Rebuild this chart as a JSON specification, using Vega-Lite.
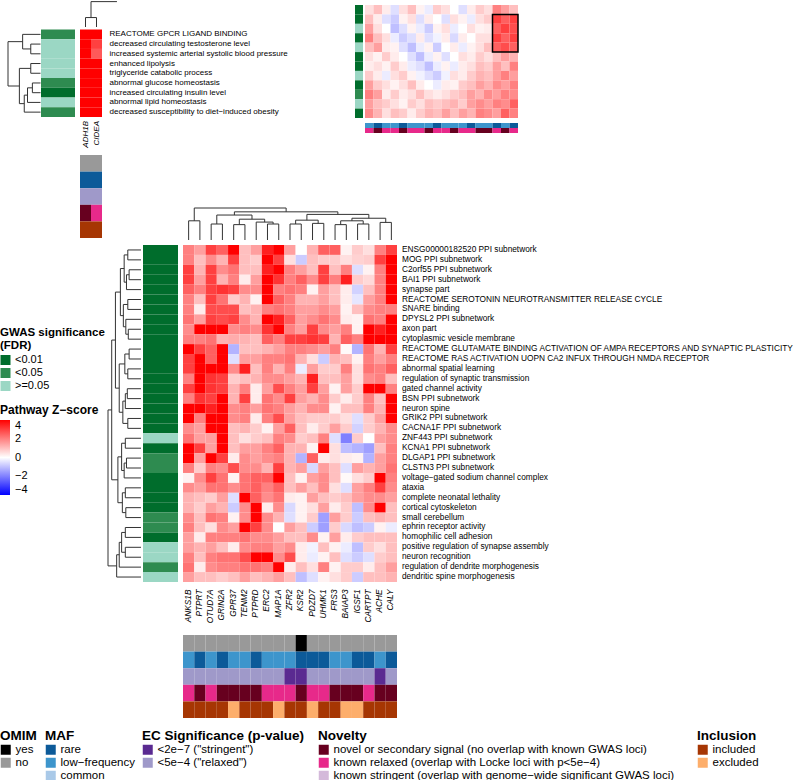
{
"$schema": "https://vega.github.io/schema/vega-lite/v6.json",
"width": 800,
"height": 780,
"autosize": {"type": "none"},
"padding": 0,
"config": {
 "view": {"stroke": null},
 "font": "Liberation Sans",
 "axis": {"labelFont": "Liberation Sans", "labelColor": "#000"},
 "legend": {"titleFont": "Liberation Sans", "labelFont": "Liberation Sans", "titleFontSize": 13.5, "labelFontSize": 11.5, "titleColor": "#000", "labelColor": "#000", "symbolType": "square", "symbolSize": 100, "symbolStrokeWidth": 0, "symbolOpacity": 1, "labelLimit": 500, "titleLimit": 500, "rowPadding": 0, "labelOffset": 4, "titlePadding": 1.5, "titleLineHeight": 13}
},
"datasets": {
 "genes": [{"c":0,"g":"ANKS1B"},{"c":1,"g":"PTPRT"},{"c":2,"g":"OTUD7A"},{"c":3,"g":"GRIN2A"},{"c":4,"g":"GPR37"},{"c":5,"g":"TENM2"},{"c":6,"g":"PTPRD"},{"c":7,"g":"ERC2"},{"c":8,"g":"MAP1A"},{"c":9,"g":"ZFR2"},{"c":10,"g":"KSR2"},{"c":11,"g":"PDZD7"},{"c":12,"g":"UHMK1"},{"c":13,"g":"FRS3"},{"c":14,"g":"BAIAP3"},{"c":15,"g":"IGSF1"},{"c":16,"g":"CARTPT"},{"c":17,"g":"ACHE"},{"c":18,"g":"CALY"}],
 "pw": [{"r":0,"p":"ENSG00000182520 PPI subnetwork"},{"r":1,"p":"MOG PPI subnetwork"},{"r":2,"p":"C2orf55 PPI subnetwork"},{"r":3,"p":"BAI1 PPI subnetwork"},{"r":4,"p":"synapse part"},{"r":5,"p":"REACTOME SEROTONIN NEUROTRANSMITTER RELEASE CYCLE"},{"r":6,"p":"SNARE binding"},{"r":7,"p":"DPYSL2 PPI subnetwork"},{"r":8,"p":"axon part"},{"r":9,"p":"cytoplasmic vesicle membrane"},{"r":10,"p":"REACTOME GLUTAMATE BINDING ACTIVATION OF AMPA RECEPTORS AND SYNAPTIC PLASTICITY"},{"r":11,"p":"REACTOME RAS ACTIVATION UOPN CA2 INFUX THROUGH NMDA RECEPTOR"},{"r":12,"p":"abnormal spatial learning"},{"r":13,"p":"regulation of synaptic transmission"},{"r":14,"p":"gated channel activity"},{"r":15,"p":"BSN PPI subnetwork"},{"r":16,"p":"neuron spine"},{"r":17,"p":"GRIK2 PPI subnetwork"},{"r":18,"p":"CACNA1F PPI subnetwork"},{"r":19,"p":"ZNF443 PPI subnetwork"},{"r":20,"p":"KCNA1 PPI subnetwork"},{"r":21,"p":"DLGAP1 PPI subnetwork"},{"r":22,"p":"CLSTN3 PPI subnetwork"},{"r":23,"p":"voltage−gated sodium channel complex"},{"r":24,"p":"ataxia"},{"r":25,"p":"complete neonatal lethality"},{"r":26,"p":"cortical cytoskeleton"},{"r":27,"p":"small cerebellum"},{"r":28,"p":"ephrin receptor activity"},{"r":29,"p":"homophilic cell adhesion"},{"r":30,"p":"positive regulation of synapse assembly"},{"r":31,"p":"neuron recognition"},{"r":32,"p":"regulation of dendrite morphogenesis"},{"r":33,"p":"dendritic spine morphogenesis"}],
 "gw": [{"r":0,"s":"<0.01"},{"r":1,"s":"<0.01"},{"r":2,"s":"<0.01"},{"r":3,"s":"<0.01"},{"r":4,"s":"<0.01"},{"r":5,"s":"<0.01"},{"r":6,"s":"<0.01"},{"r":7,"s":"<0.01"},{"r":8,"s":"<0.01"},{"r":9,"s":"<0.01"},{"r":10,"s":"<0.01"},{"r":11,"s":"<0.01"},{"r":12,"s":"<0.01"},{"r":13,"s":"<0.01"},{"r":14,"s":"<0.01"},{"r":15,"s":"<0.01"},{"r":16,"s":"<0.01"},{"r":17,"s":"<0.01"},{"r":18,"s":"<0.01"},{"r":19,"s":">=0.05"},{"r":20,"s":"<0.01"},{"r":21,"s":"<0.05"},{"r":22,"s":"<0.05"},{"r":23,"s":"<0.01"},{"r":24,"s":"<0.01"},{"r":25,"s":"<0.01"},{"r":26,"s":"<0.01"},{"r":27,"s":"<0.05"},{"r":28,"s":"<0.05"},{"r":29,"s":"<0.01"},{"r":30,"s":">=0.05"},{"r":31,"s":">=0.05"},{"r":32,"s":"<0.05"},{"r":33,"s":">=0.05"}],
 "heat": [
{"r":0,"c":0,"z":2},{"r":0,"c":1,"z":1.5},{"r":0,"c":2,"z":3},{"r":0,"c":3,"z":2.5},{"r":0,"c":4,"z":4},{"r":0,"c":5,"z":1},{"r":0,"c":6,"z":1.5},{"r":0,"c":7,"z":3.5},{"r":0,"c":8,"z":4},{"r":0,"c":9,"z":1.5},{"r":0,"c":10,"z":0},{"r":0,"c":11,"z":1.2},{"r":0,"c":12,"z":2.5},{"r":0,"c":13,"z":2.5},{"r":0,"c":14,"z":0.2},{"r":0,"c":15,"z":0.8},{"r":0,"c":16,"z":0.5},{"r":0,"c":17,"z":2},{"r":0,"c":18,"z":3},
{"r":1,"c":0,"z":2},{"r":1,"c":1,"z":1},{"r":1,"c":2,"z":1.8},{"r":1,"c":3,"z":1.2},{"r":1,"c":4,"z":3},{"r":1,"c":5,"z":1},{"r":1,"c":6,"z":0.8},{"r":1,"c":7,"z":4},{"r":1,"c":8,"z":3},{"r":1,"c":9,"z":0.5},{"r":1,"c":10,"z":-0.8},{"r":1,"c":11,"z":1},{"r":1,"c":12,"z":0.8},{"r":1,"c":13,"z":0.8},{"r":1,"c":14,"z":0.5},{"r":1,"c":15,"z":0.7},{"r":1,"c":16,"z":0.8},{"r":1,"c":17,"z":3},{"r":1,"c":18,"z":4},
{"r":2,"c":0,"z":3},{"r":2,"c":1,"z":1.2},{"r":2,"c":2,"z":3},{"r":2,"c":3,"z":1.8},{"r":2,"c":4,"z":2.2},{"r":2,"c":5,"z":1},{"r":2,"c":6,"z":1},{"r":2,"c":7,"z":3.5},{"r":2,"c":8,"z":4},{"r":2,"c":9,"z":2},{"r":2,"c":10,"z":1.5},{"r":2,"c":11,"z":1},{"r":2,"c":12,"z":3},{"r":2,"c":13,"z":1},{"r":2,"c":14,"z":2},{"r":2,"c":15,"z":-0.5},{"r":2,"c":16,"z":0.2},{"r":2,"c":17,"z":2},{"r":2,"c":18,"z":4},
{"r":3,"c":0,"z":3},{"r":3,"c":1,"z":1.5},{"r":3,"c":2,"z":3},{"r":3,"c":3,"z":1.2},{"r":3,"c":4,"z":2},{"r":3,"c":5,"z":0.3},{"r":3,"c":6,"z":1.5},{"r":3,"c":7,"z":4},{"r":3,"c":8,"z":3.2},{"r":3,"c":9,"z":2},{"r":3,"c":10,"z":2.5},{"r":3,"c":11,"z":1.8},{"r":3,"c":12,"z":3},{"r":3,"c":13,"z":2},{"r":3,"c":14,"z":3.5},{"r":3,"c":15,"z":0.8},{"r":3,"c":16,"z":0.6},{"r":3,"c":17,"z":2},{"r":3,"c":18,"z":4},
{"r":4,"c":0,"z":2.5},{"r":4,"c":1,"z":2},{"r":4,"c":2,"z":3},{"r":4,"c":3,"z":3.2},{"r":4,"c":4,"z":3},{"r":4,"c":5,"z":1.8},{"r":4,"c":6,"z":1.8},{"r":4,"c":7,"z":4},{"r":4,"c":8,"z":2},{"r":4,"c":9,"z":2.2},{"r":4,"c":10,"z":2},{"r":4,"c":11,"z":0.2},{"r":4,"c":12,"z":1.5},{"r":4,"c":13,"z":1},{"r":4,"c":14,"z":0.3},{"r":4,"c":15,"z":-0.7},{"r":4,"c":16,"z":1},{"r":4,"c":17,"z":2},{"r":4,"c":18,"z":4},
{"r":5,"c":0,"z":2},{"r":5,"c":1,"z":1},{"r":5,"c":2,"z":3},{"r":5,"c":3,"z":2.2},{"r":5,"c":4,"z":0.8},{"r":5,"c":5,"z":1.2},{"r":5,"c":6,"z":0.2},{"r":5,"c":7,"z":4},{"r":5,"c":8,"z":2.5},{"r":5,"c":9,"z":2},{"r":5,"c":10,"z":1.2},{"r":5,"c":11,"z":1.2},{"r":5,"c":12,"z":1.5},{"r":5,"c":13,"z":1},{"r":5,"c":14,"z":0.3},{"r":5,"c":15,"z":-0.4},{"r":5,"c":16,"z":1.5},{"r":5,"c":17,"z":2},{"r":5,"c":18,"z":4},
{"r":6,"c":0,"z":2},{"r":6,"c":1,"z":0.3},{"r":6,"c":2,"z":2.8},{"r":6,"c":3,"z":2.8},{"r":6,"c":4,"z":2.8},{"r":6,"c":5,"z":1},{"r":6,"c":6,"z":1.2},{"r":6,"c":7,"z":2},{"r":6,"c":8,"z":2.2},{"r":6,"c":9,"z":2},{"r":6,"c":10,"z":1.5},{"r":6,"c":11,"z":1.5},{"r":6,"c":12,"z":1.8},{"r":6,"c":13,"z":1.5},{"r":6,"c":14,"z":0.2},{"r":6,"c":15,"z":1},{"r":6,"c":16,"z":1.8},{"r":6,"c":17,"z":2},{"r":6,"c":18,"z":2},
{"r":7,"c":0,"z":2.2},{"r":7,"c":1,"z":1.5},{"r":7,"c":2,"z":3},{"r":7,"c":3,"z":2.8},{"r":7,"c":4,"z":3},{"r":7,"c":5,"z":1.8},{"r":7,"c":6,"z":1.2},{"r":7,"c":7,"z":4},{"r":7,"c":8,"z":3.5},{"r":7,"c":9,"z":2.5},{"r":7,"c":10,"z":1.5},{"r":7,"c":11,"z":1.8},{"r":7,"c":12,"z":2.2},{"r":7,"c":13,"z":1.8},{"r":7,"c":14,"z":0.3},{"r":7,"c":15,"z":0.2},{"r":7,"c":16,"z":2.2},{"r":7,"c":17,"z":2},{"r":7,"c":18,"z":4},
{"r":8,"c":0,"z":1.8},{"r":8,"c":1,"z":4},{"r":8,"c":2,"z":4},{"r":8,"c":3,"z":4},{"r":8,"c":4,"z":1.8},{"r":8,"c":5,"z":2},{"r":8,"c":6,"z":1.8},{"r":8,"c":7,"z":3.2},{"r":8,"c":8,"z":4},{"r":8,"c":9,"z":2},{"r":8,"c":10,"z":1.5},{"r":8,"c":11,"z":3},{"r":8,"c":12,"z":1.8},{"r":8,"c":13,"z":1.5},{"r":8,"c":14,"z":2},{"r":8,"c":15,"z":0.2},{"r":8,"c":16,"z":4},{"r":8,"c":17,"z":3.5},{"r":8,"c":18,"z":4},
{"r":9,"c":0,"z":2},{"r":9,"c":1,"z":2},{"r":9,"c":2,"z":2.2},{"r":9,"c":3,"z":1.2},{"r":9,"c":4,"z":1.3},{"r":9,"c":5,"z":1.2},{"r":9,"c":6,"z":1},{"r":9,"c":7,"z":2.5},{"r":9,"c":8,"z":2},{"r":9,"c":9,"z":3},{"r":9,"c":10,"z":3},{"r":9,"c":11,"z":3.2},{"r":9,"c":12,"z":3},{"r":9,"c":13,"z":1.2},{"r":9,"c":14,"z":2.5},{"r":9,"c":15,"z":2},{"r":9,"c":16,"z":4},{"r":9,"c":17,"z":4},{"r":9,"c":18,"z":4},
{"r":10,"c":0,"z":4},{"r":10,"c":1,"z":3},{"r":10,"c":2,"z":2.5},{"r":10,"c":3,"z":4},{"r":10,"c":4,"z":-1.2},{"r":10,"c":5,"z":1},{"r":10,"c":6,"z":1},{"r":10,"c":7,"z":1.2},{"r":10,"c":8,"z":1.5},{"r":10,"c":9,"z":2},{"r":10,"c":10,"z":2},{"r":10,"c":11,"z":1.8},{"r":10,"c":12,"z":1.5},{"r":10,"c":13,"z":2},{"r":10,"c":14,"z":0.1},{"r":10,"c":15,"z":-1.2},{"r":10,"c":16,"z":2.2},{"r":10,"c":17,"z":1.2},{"r":10,"c":18,"z":3},
{"r":11,"c":0,"z":3},{"r":11,"c":1,"z":4},{"r":11,"c":2,"z":2.5},{"r":11,"c":3,"z":4},{"r":11,"c":4,"z":-0.5},{"r":11,"c":5,"z":1.5},{"r":11,"c":6,"z":1.5},{"r":11,"c":7,"z":2},{"r":11,"c":8,"z":2},{"r":11,"c":9,"z":2.2},{"r":11,"c":10,"z":1.2},{"r":11,"c":11,"z":0.5},{"r":11,"c":12,"z":-0.8},{"r":11,"c":13,"z":1.2},{"r":11,"c":14,"z":1},{"r":11,"c":15,"z":0.2},{"r":11,"c":16,"z":2},{"r":11,"c":17,"z":1.5},{"r":11,"c":18,"z":2},
{"r":12,"c":0,"z":3},{"r":12,"c":1,"z":4},{"r":12,"c":2,"z":4},{"r":12,"c":3,"z":4},{"r":12,"c":4,"z":1.8},{"r":12,"c":5,"z":3.5},{"r":12,"c":6,"z":1},{"r":12,"c":7,"z":2},{"r":12,"c":8,"z":1.2},{"r":12,"c":9,"z":2},{"r":12,"c":10,"z":-0.3},{"r":12,"c":11,"z":1.5},{"r":12,"c":12,"z":0.8},{"r":12,"c":13,"z":0.8},{"r":12,"c":14,"z":2},{"r":12,"c":15,"z":0.5},{"r":12,"c":16,"z":2.2},{"r":12,"c":17,"z":2},{"r":12,"c":18,"z":2.5},
{"r":13,"c":0,"z":2},{"r":13,"c":1,"z":4},{"r":13,"c":2,"z":3.2},{"r":13,"c":3,"z":3},{"r":13,"c":4,"z":0.8},{"r":13,"c":5,"z":1},{"r":13,"c":6,"z":1.2},{"r":13,"c":7,"z":1.8},{"r":13,"c":8,"z":1.8},{"r":13,"c":9,"z":1.5},{"r":13,"c":10,"z":1.2},{"r":13,"c":11,"z":3.5},{"r":13,"c":12,"z":1},{"r":13,"c":13,"z":1},{"r":13,"c":14,"z":1.5},{"r":13,"c":15,"z":0.5},{"r":13,"c":16,"z":1.8},{"r":13,"c":17,"z":2},{"r":13,"c":18,"z":1},
{"r":14,"c":0,"z":3},{"r":14,"c":1,"z":4},{"r":14,"c":2,"z":3.2},{"r":14,"c":3,"z":3},{"r":14,"c":4,"z":1.2},{"r":14,"c":5,"z":2},{"r":14,"c":6,"z":0.3},{"r":14,"c":7,"z":1.5},{"r":14,"c":8,"z":2.8},{"r":14,"c":9,"z":2},{"r":14,"c":10,"z":1.5},{"r":14,"c":11,"z":3},{"r":14,"c":12,"z":1.5},{"r":14,"c":13,"z":0.2},{"r":14,"c":14,"z":1.5},{"r":14,"c":15,"z":0.8},{"r":14,"c":16,"z":4},{"r":14,"c":17,"z":4},{"r":14,"c":18,"z":2},
{"r":15,"c":0,"z":2},{"r":15,"c":1,"z":3.2},{"r":15,"c":2,"z":3},{"r":15,"c":3,"z":4},{"r":15,"c":4,"z":1.2},{"r":15,"c":5,"z":3},{"r":15,"c":6,"z":0.3},{"r":15,"c":7,"z":2.2},{"r":15,"c":8,"z":1.8},{"r":15,"c":9,"z":3},{"r":15,"c":10,"z":1.5},{"r":15,"c":11,"z":1.2},{"r":15,"c":12,"z":1.8},{"r":15,"c":13,"z":0.8},{"r":15,"c":14,"z":0.3},{"r":15,"c":15,"z":0.8},{"r":15,"c":16,"z":2},{"r":15,"c":17,"z":1},{"r":15,"c":18,"z":4},
{"r":16,"c":0,"z":4},{"r":16,"c":1,"z":4},{"r":16,"c":2,"z":3.5},{"r":16,"c":3,"z":4},{"r":16,"c":4,"z":1.8},{"r":16,"c":5,"z":2},{"r":16,"c":6,"z":1.5},{"r":16,"c":7,"z":2.2},{"r":16,"c":8,"z":2},{"r":16,"c":9,"z":1.5},{"r":16,"c":10,"z":1.2},{"r":16,"c":11,"z":1.8},{"r":16,"c":12,"z":1.8},{"r":16,"c":13,"z":0.2},{"r":16,"c":14,"z":1},{"r":16,"c":15,"z":1},{"r":16,"c":16,"z":2},{"r":16,"c":17,"z":1.2},{"r":16,"c":18,"z":4},
{"r":17,"c":0,"z":4},{"r":17,"c":1,"z":2},{"r":17,"c":2,"z":4},{"r":17,"c":3,"z":4},{"r":17,"c":4,"z":1.8},{"r":17,"c":5,"z":2},{"r":17,"c":6,"z":0.3},{"r":17,"c":7,"z":2},{"r":17,"c":8,"z":2.8},{"r":17,"c":9,"z":1.5},{"r":17,"c":10,"z":1},{"r":17,"c":11,"z":0.8},{"r":17,"c":12,"z":0.8},{"r":17,"c":13,"z":0.8},{"r":17,"c":14,"z":0.5},{"r":17,"c":15,"z":-0.5},{"r":17,"c":16,"z":0.8},{"r":17,"c":17,"z":1.5},{"r":17,"c":18,"z":4},
{"r":18,"c":0,"z":1.8},{"r":18,"c":1,"z":1.5},{"r":18,"c":2,"z":4},{"r":18,"c":3,"z":4},{"r":18,"c":4,"z":1},{"r":18,"c":5,"z":1.2},{"r":18,"c":6,"z":0.8},{"r":18,"c":7,"z":0.2},{"r":18,"c":8,"z":1.5},{"r":18,"c":9,"z":2.5},{"r":18,"c":10,"z":1},{"r":18,"c":11,"z":0.3},{"r":18,"c":12,"z":0.8},{"r":18,"c":13,"z":1.5},{"r":18,"c":14,"z":0.8},{"r":18,"c":15,"z":-0.7},{"r":18,"c":16,"z":0.8},{"r":18,"c":17,"z":1.2},{"r":18,"c":18,"z":1.8},
{"r":19,"c":0,"z":2.2},{"r":19,"c":1,"z":1.5},{"r":19,"c":2,"z":1.5},{"r":19,"c":3,"z":4},{"r":19,"c":4,"z":1},{"r":19,"c":5,"z":0.5},{"r":19,"c":6,"z":0.8},{"r":19,"c":7,"z":1},{"r":19,"c":8,"z":2},{"r":19,"c":9,"z":1.8},{"r":19,"c":10,"z":0.8},{"r":19,"c":11,"z":1},{"r":19,"c":12,"z":2},{"r":19,"c":13,"z":-0.5},{"r":19,"c":14,"z":-2},{"r":19,"c":15,"z":0.8},{"r":19,"c":16,"z":0},{"r":19,"c":17,"z":1.5},{"r":19,"c":18,"z":1.8},
{"r":20,"c":0,"z":4},{"r":20,"c":1,"z":3},{"r":20,"c":2,"z":1.5},{"r":20,"c":3,"z":4},{"r":20,"c":4,"z":1},{"r":20,"c":5,"z":1.5},{"r":20,"c":6,"z":1.5},{"r":20,"c":7,"z":2},{"r":20,"c":8,"z":2.5},{"r":20,"c":9,"z":1.2},{"r":20,"c":10,"z":1.2},{"r":20,"c":11,"z":0.2},{"r":20,"c":12,"z":4},{"r":20,"c":13,"z":0.5},{"r":20,"c":14,"z":-1},{"r":20,"c":15,"z":-1.2},{"r":20,"c":16,"z":-1.5},{"r":20,"c":17,"z":1},{"r":20,"c":18,"z":2},
{"r":21,"c":0,"z":4},{"r":21,"c":1,"z":1.5},{"r":21,"c":2,"z":4},{"r":21,"c":3,"z":3},{"r":21,"c":4,"z":0.3},{"r":21,"c":5,"z":1.8},{"r":21,"c":6,"z":1.5},{"r":21,"c":7,"z":1.8},{"r":21,"c":8,"z":2},{"r":21,"c":9,"z":1.2},{"r":21,"c":10,"z":-1.2},{"r":21,"c":11,"z":2.5},{"r":21,"c":12,"z":0.3},{"r":21,"c":13,"z":0.5},{"r":21,"c":14,"z":0.3},{"r":21,"c":15,"z":0.2},{"r":21,"c":16,"z":-1.2},{"r":21,"c":17,"z":1.5},{"r":21,"c":18,"z":2},
{"r":22,"c":0,"z":2},{"r":22,"c":1,"z":0.8},{"r":22,"c":2,"z":2},{"r":22,"c":3,"z":1.8},{"r":22,"c":4,"z":2.8},{"r":22,"c":5,"z":1.8},{"r":22,"c":6,"z":1.8},{"r":22,"c":7,"z":1.2},{"r":22,"c":8,"z":3},{"r":22,"c":9,"z":1.2},{"r":22,"c":10,"z":1.5},{"r":22,"c":11,"z":-0.6},{"r":22,"c":12,"z":1.5},{"r":22,"c":13,"z":1},{"r":22,"c":14,"z":-0.5},{"r":22,"c":15,"z":1.5},{"r":22,"c":16,"z":1.2},{"r":22,"c":17,"z":1.5},{"r":22,"c":18,"z":2.2},
{"r":23,"c":0,"z":0.2},{"r":23,"c":1,"z":1.8},{"r":23,"c":2,"z":3},{"r":23,"c":3,"z":2.2},{"r":23,"c":4,"z":0.2},{"r":23,"c":5,"z":2.2},{"r":23,"c":6,"z":2.5},{"r":23,"c":7,"z":2.5},{"r":23,"c":8,"z":4},{"r":23,"c":9,"z":1},{"r":23,"c":10,"z":0.2},{"r":23,"c":11,"z":1.5},{"r":23,"c":12,"z":1.8},{"r":23,"c":13,"z":1},{"r":23,"c":14,"z":0.1},{"r":23,"c":15,"z":0.5},{"r":23,"c":16,"z":0.8},{"r":23,"c":17,"z":4},{"r":23,"c":18,"z":2},
{"r":24,"c":0,"z":1.8},{"r":24,"c":1,"z":1.5},{"r":24,"c":2,"z":2.2},{"r":24,"c":3,"z":2.2},{"r":24,"c":4,"z":1.8},{"r":24,"c":5,"z":2.2},{"r":24,"c":6,"z":2.5},{"r":24,"c":7,"z":2},{"r":24,"c":8,"z":2.5},{"r":24,"c":9,"z":1},{"r":24,"c":10,"z":1.5},{"r":24,"c":11,"z":1},{"r":24,"c":12,"z":1.8},{"r":24,"c":13,"z":0.5},{"r":24,"c":14,"z":-0.5},{"r":24,"c":15,"z":1.5},{"r":24,"c":16,"z":2},{"r":24,"c":17,"z":3},{"r":24,"c":18,"z":1.8},
{"r":25,"c":0,"z":1.2},{"r":25,"c":1,"z":1},{"r":25,"c":2,"z":0.8},{"r":25,"c":3,"z":1.5},{"r":25,"c":4,"z":-0.5},{"r":25,"c":5,"z":4},{"r":25,"c":6,"z":2.5},{"r":25,"c":7,"z":1.8},{"r":25,"c":8,"z":2.2},{"r":25,"c":9,"z":0.3},{"r":25,"c":10,"z":0.2},{"r":25,"c":11,"z":1.5},{"r":25,"c":12,"z":1},{"r":25,"c":13,"z":0.8},{"r":25,"c":14,"z":1},{"r":25,"c":15,"z":1.5},{"r":25,"c":16,"z":1.8},{"r":25,"c":17,"z":1.8},{"r":25,"c":18,"z":1.5},
{"r":26,"c":0,"z":1.2},{"r":26,"c":1,"z":0.8},{"r":26,"c":2,"z":1.5},{"r":26,"c":3,"z":1.2},{"r":26,"c":4,"z":-0.8},{"r":26,"c":5,"z":1.8},{"r":26,"c":6,"z":4},{"r":26,"c":7,"z":0.3},{"r":26,"c":8,"z":1.8},{"r":26,"c":9,"z":-0.6},{"r":26,"c":10,"z":0.2},{"r":26,"c":11,"z":0.5},{"r":26,"c":12,"z":1.5},{"r":26,"c":13,"z":0.3},{"r":26,"c":14,"z":0.8},{"r":26,"c":15,"z":-1},{"r":26,"c":16,"z":1.8},{"r":26,"c":17,"z":4},{"r":26,"c":18,"z":1},
{"r":27,"c":0,"z":1.8},{"r":27,"c":1,"z":1},{"r":27,"c":2,"z":2.2},{"r":27,"c":3,"z":2},{"r":27,"c":4,"z":0.2},{"r":27,"c":5,"z":1.8},{"r":27,"c":6,"z":4},{"r":27,"c":7,"z":1.8},{"r":27,"c":8,"z":1.2},{"r":27,"c":9,"z":-0.5},{"r":27,"c":10,"z":0.2},{"r":27,"c":11,"z":0.8},{"r":27,"c":12,"z":-1.5},{"r":27,"c":13,"z":1.5},{"r":27,"c":14,"z":0.8},{"r":27,"c":15,"z":-0.8},{"r":27,"c":16,"z":1},{"r":27,"c":17,"z":1.2},{"r":27,"c":18,"z":1},
{"r":28,"c":0,"z":2},{"r":28,"c":1,"z":1},{"r":28,"c":2,"z":0.5},{"r":28,"c":3,"z":1.8},{"r":28,"c":4,"z":1.5},{"r":28,"c":5,"z":4},{"r":28,"c":6,"z":3},{"r":28,"c":7,"z":1.8},{"r":28,"c":8,"z":0},{"r":28,"c":9,"z":1.5},{"r":28,"c":10,"z":1},{"r":28,"c":11,"z":-0.8},{"r":28,"c":12,"z":-1.5},{"r":28,"c":13,"z":0.8},{"r":28,"c":14,"z":-0.6},{"r":28,"c":15,"z":-1},{"r":28,"c":16,"z":-0.8},{"r":28,"c":17,"z":0.2},{"r":28,"c":18,"z":-0.3},
{"r":29,"c":0,"z":1.5},{"r":29,"c":1,"z":0.3},{"r":29,"c":2,"z":2},{"r":29,"c":3,"z":2},{"r":29,"c":4,"z":2},{"r":29,"c":5,"z":2.2},{"r":29,"c":6,"z":1.8},{"r":29,"c":7,"z":1.8},{"r":29,"c":8,"z":1.5},{"r":29,"c":9,"z":1},{"r":29,"c":10,"z":1},{"r":29,"c":11,"z":1.8},{"r":29,"c":12,"z":0.2},{"r":29,"c":13,"z":1.5},{"r":29,"c":14,"z":0.3},{"r":29,"c":15,"z":0.8},{"r":29,"c":16,"z":1},{"r":29,"c":17,"z":1},{"r":29,"c":18,"z":1},
{"r":30,"c":0,"z":1.5},{"r":30,"c":1,"z":1.2},{"r":30,"c":2,"z":1.5},{"r":30,"c":3,"z":1},{"r":30,"c":4,"z":0.3},{"r":30,"c":5,"z":1.8},{"r":30,"c":6,"z":2},{"r":30,"c":7,"z":2},{"r":30,"c":8,"z":1.5},{"r":30,"c":9,"z":1.8},{"r":30,"c":10,"z":0.3},{"r":30,"c":11,"z":-0.2},{"r":30,"c":12,"z":1},{"r":30,"c":13,"z":0.2},{"r":30,"c":14,"z":-0.3},{"r":30,"c":15,"z":-1},{"r":30,"c":16,"z":0.8},{"r":30,"c":17,"z":0.5},{"r":30,"c":18,"z":1},
{"r":31,"c":0,"z":2},{"r":31,"c":1,"z":1},{"r":31,"c":2,"z":2},{"r":31,"c":3,"z":2.2},{"r":31,"c":4,"z":2.2},{"r":31,"c":5,"z":2.8},{"r":31,"c":6,"z":4},{"r":31,"c":7,"z":4},{"r":31,"c":8,"z":1.8},{"r":31,"c":9,"z":2.8},{"r":31,"c":10,"z":0.3},{"r":31,"c":11,"z":-0.3},{"r":31,"c":12,"z":0.2},{"r":31,"c":13,"z":1},{"r":31,"c":14,"z":-0.5},{"r":31,"c":15,"z":-0.8},{"r":31,"c":16,"z":-0.5},{"r":31,"c":17,"z":0.8},{"r":31,"c":18,"z":1},
{"r":32,"c":0,"z":2.2},{"r":32,"c":1,"z":0.3},{"r":32,"c":2,"z":1.8},{"r":32,"c":3,"z":2},{"r":32,"c":4,"z":2},{"r":32,"c":5,"z":2.2},{"r":32,"c":6,"z":2.2},{"r":32,"c":7,"z":2},{"r":32,"c":8,"z":4},{"r":32,"c":9,"z":0.3},{"r":32,"c":10,"z":1},{"r":32,"c":11,"z":0.5},{"r":32,"c":12,"z":2},{"r":32,"c":13,"z":0.2},{"r":32,"c":14,"z":0.8},{"r":32,"c":15,"z":0.8},{"r":32,"c":16,"z":0.3},{"r":32,"c":17,"z":1},{"r":32,"c":18,"z":1.5},
{"r":33,"c":0,"z":1.5},{"r":33,"c":1,"z":1},{"r":33,"c":2,"z":1},{"r":33,"c":3,"z":0.8},{"r":33,"c":4,"z":1},{"r":33,"c":5,"z":1.5},{"r":33,"c":6,"z":1},{"r":33,"c":7,"z":1.2},{"r":33,"c":8,"z":1.5},{"r":33,"c":9,"z":1},{"r":33,"c":10,"z":-1},{"r":33,"c":11,"z":-0.5},{"r":33,"c":12,"z":0.2},{"r":33,"c":13,"z":0.5},{"r":33,"c":14,"z":0.8},{"r":33,"c":15,"z":-0.8},{"r":33,"c":16,"z":1},{"r":33,"c":17,"z":1},{"r":33,"c":18,"z":1.2}
 ],
 "annot": [
{"c":0,"t":"OMIM","v":"no"},{"c":1,"t":"OMIM","v":"no"},{"c":2,"t":"OMIM","v":"no"},{"c":3,"t":"OMIM","v":"no"},{"c":4,"t":"OMIM","v":"no"},{"c":5,"t":"OMIM","v":"no"},{"c":6,"t":"OMIM","v":"no"},{"c":7,"t":"OMIM","v":"no"},{"c":8,"t":"OMIM","v":"no"},{"c":9,"t":"OMIM","v":"no"},{"c":10,"t":"OMIM","v":"yes"},{"c":11,"t":"OMIM","v":"no"},{"c":12,"t":"OMIM","v":"no"},{"c":13,"t":"OMIM","v":"no"},{"c":14,"t":"OMIM","v":"no"},{"c":15,"t":"OMIM","v":"no"},{"c":16,"t":"OMIM","v":"no"},{"c":17,"t":"OMIM","v":"no"},{"c":18,"t":"OMIM","v":"no"},
{"c":0,"t":"MAF","v":"low"},{"c":1,"t":"MAF","v":"rare"},{"c":2,"t":"MAF","v":"low"},{"c":3,"t":"MAF","v":"rare"},{"c":4,"t":"MAF","v":"low"},{"c":5,"t":"MAF","v":"low"},{"c":6,"t":"MAF","v":"rare"},{"c":7,"t":"MAF","v":"low"},{"c":8,"t":"MAF","v":"low"},{"c":9,"t":"MAF","v":"low"},{"c":10,"t":"MAF","v":"rare"},{"c":11,"t":"MAF","v":"rare"},{"c":12,"t":"MAF","v":"rare"},{"c":13,"t":"MAF","v":"low"},{"c":14,"t":"MAF","v":"low"},{"c":15,"t":"MAF","v":"rare"},{"c":16,"t":"MAF","v":"rare"},{"c":17,"t":"MAF","v":"low"},{"c":18,"t":"MAF","v":"rare"},
{"c":0,"t":"EC","v":"r"},{"c":1,"t":"EC","v":"r"},{"c":2,"t":"EC","v":"r"},{"c":3,"t":"EC","v":"r"},{"c":4,"t":"EC","v":"r"},{"c":5,"t":"EC","v":"r"},{"c":6,"t":"EC","v":"r"},{"c":7,"t":"EC","v":"r"},{"c":8,"t":"EC","v":"r"},{"c":9,"t":"EC","v":"s"},{"c":10,"t":"EC","v":"s"},{"c":11,"t":"EC","v":"r"},{"c":12,"t":"EC","v":"r"},{"c":13,"t":"EC","v":"r"},{"c":14,"t":"EC","v":"r"},{"c":15,"t":"EC","v":"r"},{"c":16,"t":"EC","v":"r"},{"c":17,"t":"EC","v":"s"},{"c":18,"t":"EC","v":"r"},
{"c":0,"t":"Nov","v":"relaxed"},{"c":1,"t":"Nov","v":"novel"},{"c":2,"t":"Nov","v":"relaxed"},{"c":3,"t":"Nov","v":"novel"},{"c":4,"t":"Nov","v":"novel"},{"c":5,"t":"Nov","v":"novel"},{"c":6,"t":"Nov","v":"novel"},{"c":7,"t":"Nov","v":"relaxed"},{"c":8,"t":"Nov","v":"relaxed"},{"c":9,"t":"Nov","v":"relaxed"},{"c":10,"t":"Nov","v":"novel"},{"c":11,"t":"Nov","v":"relaxed"},{"c":12,"t":"Nov","v":"relaxed"},{"c":13,"t":"Nov","v":"novel"},{"c":14,"t":"Nov","v":"novel"},{"c":15,"t":"Nov","v":"novel"},{"c":16,"t":"Nov","v":"relaxed"},{"c":17,"t":"Nov","v":"novel"},{"c":18,"t":"Nov","v":"novel"},
{"c":0,"t":"Inc","v":"included"},{"c":1,"t":"Inc","v":"included"},{"c":2,"t":"Inc","v":"included"},{"c":3,"t":"Inc","v":"included"},{"c":4,"t":"Inc","v":"excluded"},{"c":5,"t":"Inc","v":"included"},{"c":6,"t":"Inc","v":"included"},{"c":7,"t":"Inc","v":"included"},{"c":8,"t":"Inc","v":"excluded"},{"c":9,"t":"Inc","v":"included"},{"c":10,"t":"Inc","v":"included"},{"c":11,"t":"Inc","v":"excluded"},{"c":12,"t":"Inc","v":"included"},{"c":13,"t":"Inc","v":"included"},{"c":14,"t":"Inc","v":"excluded"},{"c":15,"t":"Inc","v":"excluded"},{"c":16,"t":"Inc","v":"included"},{"c":17,"t":"Inc","v":"included"},{"c":18,"t":"Inc","v":"included"}
 ],
 "rtree": [
{"h1":0.4,"h2":0.4,"p1":0,"p2":1},{"h1":0,"h2":0.4,"p1":0,"p2":0},{"h1":0,"h2":0.4,"p1":1,"p2":1},
{"h1":0.36,"h2":0.36,"p1":2,"p2":3},{"h1":0,"h2":0.36,"p1":2,"p2":2},{"h1":0,"h2":0.36,"p1":3,"p2":3},
{"h1":0.44,"h2":0.44,"p1":2.5,"p2":4},{"h1":0.36,"h2":0.44,"p1":2.5,"p2":2.5},{"h1":0,"h2":0.44,"p1":4,"p2":4},
{"h1":0.51,"h2":0.51,"p1":0.5,"p2":3.25},{"h1":0.4,"h2":0.51,"p1":0.5,"p2":0.5},{"h1":0.44,"h2":0.51,"p1":3.25,"p2":3.25},
{"h1":0.4,"h2":0.4,"p1":5,"p2":6},{"h1":0,"h2":0.4,"p1":5,"p2":5},{"h1":0,"h2":0.4,"p1":6,"p2":6},
{"h1":0.385,"h2":0.385,"p1":8,"p2":9},{"h1":0,"h2":0.385,"p1":8,"p2":8},{"h1":0,"h2":0.385,"p1":9,"p2":9},
{"h1":0.46,"h2":0.46,"p1":7,"p2":8.5},{"h1":0,"h2":0.46,"p1":7,"p2":7},{"h1":0.385,"h2":0.46,"p1":8.5,"p2":8.5},
{"h1":0.535,"h2":0.535,"p1":5.5,"p2":7.75},{"h1":0.4,"h2":0.535,"p1":5.5,"p2":5.5},{"h1":0.46,"h2":0.535,"p1":7.75,"p2":7.75},
{"h1":0.625,"h2":0.625,"p1":1.875,"p2":6.625},{"h1":0.51,"h2":0.625,"p1":1.875,"p2":1.875},{"h1":0.535,"h2":0.625,"p1":6.625,"p2":6.625},
{"h1":0.36,"h2":0.36,"p1":10,"p2":11},{"h1":0,"h2":0.36,"p1":10,"p2":10},{"h1":0,"h2":0.36,"p1":11,"p2":11},
{"h1":0.4,"h2":0.4,"p1":12,"p2":13},{"h1":0,"h2":0.4,"p1":12,"p2":12},{"h1":0,"h2":0.4,"p1":13,"p2":13},
{"h1":0.49,"h2":0.49,"p1":10.5,"p2":12.5},{"h1":0.36,"h2":0.49,"p1":10.5,"p2":10.5},{"h1":0.4,"h2":0.49,"p1":12.5,"p2":12.5},
{"h1":0.415,"h2":0.415,"p1":14,"p2":15},{"h1":0,"h2":0.415,"p1":14,"p2":14},{"h1":0,"h2":0.415,"p1":15,"p2":15},
{"h1":0.475,"h2":0.475,"p1":14.5,"p2":16},{"h1":0.415,"h2":0.475,"p1":14.5,"p2":14.5},{"h1":0,"h2":0.475,"p1":16,"p2":16},
{"h1":0.4,"h2":0.4,"p1":17,"p2":18},{"h1":0,"h2":0.4,"p1":17,"p2":17},{"h1":0,"h2":0.4,"p1":18,"p2":18},
{"h1":0.55,"h2":0.55,"p1":15.25,"p2":17.5},{"h1":0.475,"h2":0.55,"p1":15.25,"p2":15.25},{"h1":0.4,"h2":0.55,"p1":17.5,"p2":17.5},
{"h1":0.66,"h2":0.66,"p1":11.5,"p2":16.375},{"h1":0.49,"h2":0.66,"p1":11.5,"p2":11.5},{"h1":0.55,"h2":0.66,"p1":16.375,"p2":16.375},
{"h1":0.775,"h2":0.775,"p1":4.25,"p2":13.94},{"h1":0.625,"h2":0.775,"p1":4.25,"p2":4.25},{"h1":0.66,"h2":0.775,"p1":13.94,"p2":13.94},
{"h1":0.475,"h2":0.475,"p1":19,"p2":20},{"h1":0,"h2":0.475,"p1":19,"p2":19},{"h1":0,"h2":0.475,"p1":20,"p2":20},
{"h1":0.44,"h2":0.44,"p1":21,"p2":22},{"h1":0,"h2":0.44,"p1":21,"p2":21},{"h1":0,"h2":0.44,"p1":22,"p2":22},
{"h1":0.51,"h2":0.51,"p1":21.5,"p2":23},{"h1":0.44,"h2":0.51,"p1":21.5,"p2":21.5},{"h1":0,"h2":0.51,"p1":23,"p2":23},
{"h1":0.5875,"h2":0.5875,"p1":19.5,"p2":22.25},{"h1":0.475,"h2":0.5875,"p1":19.5,"p2":19.5},{"h1":0.51,"h2":0.5875,"p1":22.25,"p2":22.25},
{"h1":0.475,"h2":0.475,"p1":24,"p2":25},{"h1":0,"h2":0.475,"p1":24,"p2":24},{"h1":0,"h2":0.475,"p1":25,"p2":25},
{"h1":0.46,"h2":0.46,"p1":26,"p2":27},{"h1":0,"h2":0.46,"p1":26,"p2":26},{"h1":0,"h2":0.46,"p1":27,"p2":27},
{"h1":0.565,"h2":0.565,"p1":24.5,"p2":26.5},{"h1":0.475,"h2":0.565,"p1":24.5,"p2":24.5},{"h1":0.46,"h2":0.565,"p1":26.5,"p2":26.5},
{"h1":0.7,"h2":0.7,"p1":20.875,"p2":25.5},{"h1":0.5875,"h2":0.7,"p1":20.875,"p2":20.875},{"h1":0.565,"h2":0.7,"p1":25.5,"p2":25.5},
{"h1":0.8875,"h2":0.8875,"p1":9.09,"p2":23.19},{"h1":0.775,"h2":0.8875,"p1":9.09,"p2":9.09},{"h1":0.7,"h2":0.8875,"p1":23.19,"p2":23.19},
{"h1":0.475,"h2":0.475,"p1":28,"p2":29},{"h1":0,"h2":0.475,"p1":28,"p2":28},{"h1":0,"h2":0.475,"p1":29,"p2":29},
{"h1":0.475,"h2":0.475,"p1":30,"p2":31},{"h1":0,"h2":0.475,"p1":30,"p2":30},{"h1":0,"h2":0.475,"p1":31,"p2":31},
{"h1":0.5875,"h2":0.5875,"p1":28.5,"p2":30.5},{"h1":0.475,"h2":0.5875,"p1":28.5,"p2":28.5},{"h1":0.475,"h2":0.5875,"p1":30.5,"p2":30.5},
{"h1":0.66,"h2":0.66,"p1":29.5,"p2":32},{"h1":0.5875,"h2":0.66,"p1":29.5,"p2":29.5},{"h1":0,"h2":0.66,"p1":32,"p2":32},
{"h1":0.7375,"h2":0.7375,"p1":30.75,"p2":33},{"h1":0.66,"h2":0.7375,"p1":30.75,"p2":30.75},{"h1":0,"h2":0.7375,"p1":33,"p2":33},
{"h1":1,"h2":1,"p1":16.14,"p2":31.875},{"h1":0.8875,"h2":1,"p1":16.14,"p2":16.14},{"h1":0.7375,"h2":1,"p1":31.875,"p2":31.875}
 ],
 "ctree": [
{"p1":0,"p2":1,"h1":0.6,"h2":0.6},{"p1":0,"p2":0,"h1":0,"h2":0.6},{"p1":1,"p2":1,"h1":0,"h2":0.6},
{"p1":2,"p2":3,"h1":0.5,"h2":0.5},{"p1":2,"p2":2,"h1":0,"h2":0.5},{"p1":3,"p2":3,"h1":0,"h2":0.5},
{"p1":4,"p2":5,"h1":0.48,"h2":0.48},{"p1":4,"p2":4,"h1":0,"h2":0.48},{"p1":5,"p2":5,"h1":0,"h2":0.48},
{"p1":7,"p2":8,"h1":0.5,"h2":0.5},{"p1":7,"p2":7,"h1":0,"h2":0.5},{"p1":8,"p2":8,"h1":0,"h2":0.5},
{"p1":6,"p2":7.5,"h1":0.56,"h2":0.56},{"p1":6,"p2":6,"h1":0,"h2":0.56},{"p1":7.5,"p2":7.5,"h1":0.5,"h2":0.56},
{"p1":4.5,"p2":6.75,"h1":0.65,"h2":0.65},{"p1":4.5,"p2":4.5,"h1":0.48,"h2":0.65},{"p1":6.75,"p2":6.75,"h1":0.56,"h2":0.65},
{"p1":2.5,"p2":5.625,"h1":0.78,"h2":0.78},{"p1":2.5,"p2":2.5,"h1":0.5,"h2":0.78},{"p1":5.625,"p2":5.625,"h1":0.65,"h2":0.78},
{"p1":9,"p2":10,"h1":0.5,"h2":0.5},{"p1":9,"p2":9,"h1":0,"h2":0.5},{"p1":10,"p2":10,"h1":0,"h2":0.5},
{"p1":11,"p2":12,"h1":0.52,"h2":0.52},{"p1":11,"p2":11,"h1":0,"h2":0.52},{"p1":12,"p2":12,"h1":0,"h2":0.52},
{"p1":9.5,"p2":11.5,"h1":0.62,"h2":0.62},{"p1":9.5,"p2":9.5,"h1":0.5,"h2":0.62},{"p1":11.5,"p2":11.5,"h1":0.52,"h2":0.62},
{"p1":13,"p2":14,"h1":0.48,"h2":0.48},{"p1":13,"p2":13,"h1":0,"h2":0.48},{"p1":14,"p2":14,"h1":0,"h2":0.48},
{"p1":15,"p2":16,"h1":0.5,"h2":0.5},{"p1":15,"p2":15,"h1":0,"h2":0.5},{"p1":16,"p2":16,"h1":0,"h2":0.5},
{"p1":13.5,"p2":15.5,"h1":0.6,"h2":0.6},{"p1":13.5,"p2":13.5,"h1":0.48,"h2":0.6},{"p1":15.5,"p2":15.5,"h1":0.5,"h2":0.6},
{"p1":17,"p2":18,"h1":0.55,"h2":0.55},{"p1":17,"p2":17,"h1":0,"h2":0.55},{"p1":18,"p2":18,"h1":0,"h2":0.55},
{"p1":14.5,"p2":17.5,"h1":0.68,"h2":0.68},{"p1":14.5,"p2":14.5,"h1":0.6,"h2":0.68},{"p1":17.5,"p2":17.5,"h1":0.55,"h2":0.68},
{"p1":10.5,"p2":16,"h1":0.8,"h2":0.8},{"p1":10.5,"p2":10.5,"h1":0.62,"h2":0.8},{"p1":16,"p2":16,"h1":0.68,"h2":0.8},
{"p1":4.0625,"p2":13.25,"h1":0.88,"h2":0.88},{"p1":4.0625,"p2":4.0625,"h1":0.78,"h2":0.88},{"p1":13.25,"p2":13.25,"h1":0.8,"h2":0.88},
{"p1":0.5,"p2":8.656,"h1":1,"h2":1},{"p1":0.5,"p2":0.5,"h1":0.6,"h2":1},{"p1":8.656,"p2":8.656,"h1":0.88,"h2":1}
 ],
 "ipw": [{"r":0,"p":"REACTOME GPCR LIGAND BINDING"},{"r":1,"p":"decreased circulating testosterone level"},{"r":2,"p":"increased systemic arterial systolic blood pressure"},{"r":3,"p":"enhanced lipolysis"},{"r":4,"p":"triglyceride catabolic process"},{"r":5,"p":"abnormal glucose homeostasis"},{"r":6,"p":"increased circulating insulin level"},{"r":7,"p":"abnormal lipid homeostasis"},{"r":8,"p":"decreased susceptibility to diet−induced obesity"}],
 "igenes": [{"c":0,"g":"ADH1B"},{"c":1,"g":"CIDEA"}],
 "iheat": [{"r":0,"c":0,"z":4},{"r":0,"c":1,"z":4},{"r":1,"c":0,"z":4},{"r":1,"c":1,"z":3},{"r":2,"c":0,"z":4},{"r":2,"c":1,"z":2.6},{"r":3,"c":0,"z":4},{"r":3,"c":1,"z":4},{"r":4,"c":0,"z":4},{"r":4,"c":1,"z":4},{"r":5,"c":0,"z":4},{"r":5,"c":1,"z":4},{"r":6,"c":0,"z":4},{"r":6,"c":1,"z":4},{"r":7,"c":0,"z":4},{"r":7,"c":1,"z":4},{"r":8,"c":0,"z":4},{"r":8,"c":1,"z":4}],
 "igw": [{"r":0,"s":"<0.05"},{"r":1,"s":">=0.05"},{"r":2,"s":">=0.05"},{"r":3,"s":">=0.05"},{"r":4,"s":">=0.05"},{"r":5,"s":"<0.05"},{"r":6,"s":"<0.01"},{"r":7,"s":">=0.05"},{"r":8,"s":"<0.05"}],
 "iannot": [{"c":0,"t":"OMIM","v":"no"},{"c":1,"t":"OMIM","v":"no"},{"c":0,"t":"MAF","v":"rare"},{"c":1,"t":"MAF","v":"rare"},{"c":0,"t":"EC","v":"r"},{"c":1,"t":"EC","v":"r"},{"c":0,"t":"Nov","v":"novel"},{"c":1,"t":"Nov","v":"relaxed"},{"c":0,"t":"Inc","v":"included"},{"c":1,"t":"Inc","v":"included"}],
 "itop": [{"p1":0,"p2":0,"h1":0,"h2":0.35},{"p1":1,"p2":1,"h1":0,"h2":0.35},{"p1":0,"p2":1,"h1":0.35,"h2":0.35},{"p1":0.5,"p2":0.5,"h1":0.35,"h2":0.94},{"p1":0.5,"p2":2.86,"h1":0.94,"h2":0.94}],
 "ileft": [
{"h1":0.3,"h2":0.3,"p1":1,"p2":2},{"h1":0,"h2":0.3,"p1":1,"p2":1},{"h1":0,"h2":0.3,"p1":2,"p2":2},
{"h1":0.55,"h2":0.55,"p1":0,"p2":1.5},{"h1":0,"h2":0.55,"p1":0,"p2":0},{"h1":0.3,"h2":0.55,"p1":1.5,"p2":1.5},
{"h1":0.3,"h2":0.3,"p1":3,"p2":4},{"h1":0,"h2":0.3,"p1":3,"p2":3},{"h1":0,"h2":0.3,"p1":4,"p2":4},
{"h1":0.25,"h2":0.25,"p1":5,"p2":6},{"h1":0,"h2":0.25,"p1":5,"p2":5},{"h1":0,"h2":0.25,"p1":6,"p2":6},
{"h1":0.4,"h2":0.4,"p1":5.5,"p2":7},{"h1":0.25,"h2":0.4,"p1":5.5,"p2":5.5},{"h1":0,"h2":0.4,"p1":7,"p2":7},
{"h1":0.5,"h2":0.5,"p1":6.25,"p2":8},{"h1":0.4,"h2":0.5,"p1":6.25,"p2":6.25},{"h1":0,"h2":0.5,"p1":8,"p2":8},
{"h1":0.65,"h2":0.65,"p1":3.5,"p2":7.125},{"h1":0.3,"h2":0.65,"p1":3.5,"p2":3.5},{"h1":0.5,"h2":0.65,"p1":7.125,"p2":7.125},
{"h1":1,"h2":1,"p1":0.75,"p2":5.3125},{"h1":0.55,"h2":1,"p1":0.75,"p2":0.75},{"h1":0.65,"h2":1,"p1":5.3125,"p2":5.3125}
 ],
 "ovheat": [
{"r":0,"c":0,"z":0.5},{"r":0,"c":1,"z":1},{"r":0,"c":2,"z":0.3},{"r":0,"c":3,"z":-0.5},{"r":0,"c":4,"z":0.5},{"r":0,"c":5,"z":1},{"r":0,"c":6,"z":0.2},{"r":0,"c":7,"z":-0.3},{"r":0,"c":8,"z":0.8},{"r":0,"c":9,"z":0.5},{"r":0,"c":10,"z":0},{"r":0,"c":11,"z":-0.5},{"r":0,"c":12,"z":0.3},{"r":0,"c":13,"z":0.8},{"r":0,"c":14,"z":0.5},{"r":0,"c":15,"z":2},{"r":0,"c":16,"z":1.5},{"r":0,"c":17,"z":1},
{"r":1,"c":0,"z":1},{"r":1,"c":1,"z":0.3},{"r":1,"c":2,"z":-0.5},{"r":1,"c":3,"z":-0.8},{"r":1,"c":4,"z":0.2},{"r":1,"c":5,"z":0.5},{"r":1,"c":6,"z":-0.5},{"r":1,"c":7,"z":0.3},{"r":1,"c":8,"z":0},{"r":1,"c":9,"z":-0.5},{"r":1,"c":10,"z":0.5},{"r":1,"c":11,"z":0.2},{"r":1,"c":12,"z":-0.3},{"r":1,"c":13,"z":0.5},{"r":1,"c":14,"z":0.8},{"r":1,"c":15,"z":3},{"r":1,"c":16,"z":2.5},{"r":1,"c":17,"z":3},
{"r":2,"c":0,"z":1.5},{"r":2,"c":1,"z":0.5},{"r":2,"c":2,"z":0},{"r":2,"c":3,"z":-1},{"r":2,"c":4,"z":-0.5},{"r":2,"c":5,"z":0.2},{"r":2,"c":6,"z":-0.3},{"r":2,"c":7,"z":-0.8},{"r":2,"c":8,"z":0.2},{"r":2,"c":9,"z":0.5},{"r":2,"c":10,"z":-0.3},{"r":2,"c":11,"z":0},{"r":2,"c":12,"z":0.5},{"r":2,"c":13,"z":0.2},{"r":2,"c":14,"z":0.3},{"r":2,"c":15,"z":2.5},{"r":2,"c":16,"z":3},{"r":2,"c":17,"z":2.8},
{"r":3,"c":0,"z":2},{"r":3,"c":1,"z":1},{"r":3,"c":2,"z":0.5},{"r":3,"c":3,"z":-0.3},{"r":3,"c":4,"z":-0.8},{"r":3,"c":5,"z":-0.5},{"r":3,"c":6,"z":0.3},{"r":3,"c":7,"z":-0.5},{"r":3,"c":8,"z":-0.2},{"r":3,"c":9,"z":0.3},{"r":3,"c":10,"z":-0.6},{"r":3,"c":11,"z":0.3},{"r":3,"c":12,"z":0},{"r":3,"c":13,"z":0.5},{"r":3,"c":14,"z":0.5},{"r":3,"c":15,"z":3},{"r":3,"c":16,"z":2.5},{"r":3,"c":17,"z":3},
{"r":4,"c":0,"z":1},{"r":4,"c":1,"z":1.5},{"r":4,"c":2,"z":0.3},{"r":4,"c":3,"z":0.2},{"r":4,"c":4,"z":-0.5},{"r":4,"c":5,"z":-1},{"r":4,"c":6,"z":-0.3},{"r":4,"c":7,"z":0.2},{"r":4,"c":8,"z":-0.8},{"r":4,"c":9,"z":0},{"r":4,"c":10,"z":0.3},{"r":4,"c":11,"z":-0.3},{"r":4,"c":12,"z":0.2},{"r":4,"c":13,"z":0.5},{"r":4,"c":14,"z":1},{"r":4,"c":15,"z":2.5},{"r":4,"c":16,"z":2.8},{"r":4,"c":17,"z":2.5},
{"r":5,"c":0,"z":0.5},{"r":5,"c":1,"z":0.2},{"r":5,"c":2,"z":0.8},{"r":5,"c":3,"z":0.3},{"r":5,"c":4,"z":0},{"r":5,"c":5,"z":-0.5},{"r":5,"c":6,"z":-1},{"r":5,"c":7,"z":-0.3},{"r":5,"c":8,"z":0.2},{"r":5,"c":9,"z":-0.5},{"r":5,"c":10,"z":0},{"r":5,"c":11,"z":0.5},{"r":5,"c":12,"z":0.3},{"r":5,"c":13,"z":0.8},{"r":5,"c":14,"z":0.5},{"r":5,"c":15,"z":1},{"r":5,"c":16,"z":1.5},{"r":5,"c":17,"z":1.2},
{"r":6,"c":0,"z":0.3},{"r":6,"c":1,"z":0.5},{"r":6,"c":2,"z":0.2},{"r":6,"c":3,"z":0.8},{"r":6,"c":4,"z":0.3},{"r":6,"c":5,"z":-0.3},{"r":6,"c":6,"z":-0.5},{"r":6,"c":7,"z":-1},{"r":6,"c":8,"z":-0.3},{"r":6,"c":9,"z":0.2},{"r":6,"c":10,"z":-0.3},{"r":6,"c":11,"z":0.3},{"r":6,"c":12,"z":0.5},{"r":6,"c":13,"z":1},{"r":6,"c":14,"z":0.8},{"r":6,"c":15,"z":1.5},{"r":6,"c":16,"z":1},{"r":6,"c":17,"z":2},
{"r":7,"c":0,"z":0.8},{"r":7,"c":1,"z":0.3},{"r":7,"c":2,"z":-0.3},{"r":7,"c":3,"z":0.5},{"r":7,"c":4,"z":0.8},{"r":7,"c":5,"z":0.2},{"r":7,"c":6,"z":-0.2},{"r":7,"c":7,"z":-0.5},{"r":7,"c":8,"z":-0.8},{"r":7,"c":9,"z":-0.2},{"r":7,"c":10,"z":0.5},{"r":7,"c":11,"z":0.3},{"r":7,"c":12,"z":0.8},{"r":7,"c":13,"z":1.2},{"r":7,"c":14,"z":1},{"r":7,"c":15,"z":1.5},{"r":7,"c":16,"z":2},{"r":7,"c":17,"z":1.5},
{"r":8,"c":0,"z":1.5},{"r":8,"c":1,"z":0.8},{"r":8,"c":2,"z":0.5},{"r":8,"c":3,"z":0.2},{"r":8,"c":4,"z":0.5},{"r":8,"c":5,"z":1},{"r":8,"c":6,"z":0.3},{"r":8,"c":7,"z":0},{"r":8,"c":8,"z":-0.3},{"r":8,"c":9,"z":0.3},{"r":8,"c":10,"z":0.2},{"r":8,"c":11,"z":0.8},{"r":8,"c":12,"z":1},{"r":8,"c":13,"z":1.5},{"r":8,"c":14,"z":1.2},{"r":8,"c":15,"z":1.8},{"r":8,"c":16,"z":1.5},{"r":8,"c":17,"z":2},
{"r":9,"c":0,"z":2},{"r":9,"c":1,"z":1.5},{"r":9,"c":2,"z":0.3},{"r":9,"c":3,"z":0.8},{"r":9,"c":4,"z":0.3},{"r":9,"c":5,"z":0.5},{"r":9,"c":6,"z":1},{"r":9,"c":7,"z":0.5},{"r":9,"c":8,"z":0.3},{"r":9,"c":9,"z":0.5},{"r":9,"c":10,"z":0.8},{"r":9,"c":11,"z":1},{"r":9,"c":12,"z":1.5},{"r":9,"c":13,"z":1.2},{"r":9,"c":14,"z":1.8},{"r":9,"c":15,"z":1.5},{"r":9,"c":16,"z":2},{"r":9,"c":17,"z":1.8},
{"r":10,"c":0,"z":1.5},{"r":10,"c":1,"z":1},{"r":10,"c":2,"z":0.8},{"r":10,"c":3,"z":0.5},{"r":10,"c":4,"z":0.2},{"r":10,"c":5,"z":0.8},{"r":10,"c":6,"z":0.5},{"r":10,"c":7,"z":1},{"r":10,"c":8,"z":0.8},{"r":10,"c":9,"z":1},{"r":10,"c":10,"z":1.2},{"r":10,"c":11,"z":0.8},{"r":10,"c":12,"z":1.5},{"r":10,"c":13,"z":1.8},{"r":10,"c":14,"z":1.5},{"r":10,"c":15,"z":2},{"r":10,"c":16,"z":1.8},{"r":10,"c":17,"z":2.5},
{"r":11,"c":0,"z":1.8},{"r":11,"c":1,"z":1.2},{"r":11,"c":2,"z":0.5},{"r":11,"c":3,"z":1},{"r":11,"c":4,"z":0.8},{"r":11,"c":5,"z":0.3},{"r":11,"c":6,"z":0.8},{"r":11,"c":7,"z":1.2},{"r":11,"c":8,"z":1},{"r":11,"c":9,"z":1.5},{"r":11,"c":10,"z":1},{"r":11,"c":11,"z":1.5},{"r":11,"c":12,"z":1.2},{"r":11,"c":13,"z":2},{"r":11,"c":14,"z":1.8},{"r":11,"c":15,"z":1.5},{"r":11,"c":16,"z":2.5},{"r":11,"c":17,"z":2}
 ],
 "ovgw": [{"r":0,"s":"<0.01"},{"r":1,"s":"<0.01"},{"r":2,"s":">=0.05"},{"r":3,"s":"<0.01"},{"r":4,"s":">=0.05"},{"r":5,"s":"<0.01"},{"r":6,"s":"<0.01"},{"r":7,"s":">=0.05"},{"r":8,"s":"<0.01"},{"r":9,"s":"<0.05"},{"r":10,"s":">=0.05"},{"r":11,"s":"<0.01"}],
 "ovannot": [
{"c":0,"t":"MAF","v":"low"},{"c":1,"t":"MAF","v":"rare"},{"c":2,"t":"MAF","v":"low"},{"c":3,"t":"MAF","v":"low"},{"c":4,"t":"MAF","v":"rare"},{"c":5,"t":"MAF","v":"low"},{"c":6,"t":"MAF","v":"low"},{"c":7,"t":"MAF","v":"low"},{"c":8,"t":"MAF","v":"rare"},{"c":9,"t":"MAF","v":"low"},{"c":10,"t":"MAF","v":"low"},{"c":11,"t":"MAF","v":"low"},{"c":12,"t":"MAF","v":"rare"},{"c":13,"t":"MAF","v":"low"},{"c":14,"t":"MAF","v":"low"},{"c":15,"t":"MAF","v":"rare"},{"c":16,"t":"MAF","v":"low"},{"c":17,"t":"MAF","v":"rare"},
{"c":0,"t":"Nov","v":"relaxed"},{"c":1,"t":"Nov","v":"novel"},{"c":2,"t":"Nov","v":"relaxed"},{"c":3,"t":"Nov","v":"relaxed"},{"c":4,"t":"Nov","v":"novel"},{"c":5,"t":"Nov","v":"relaxed"},{"c":6,"t":"Nov","v":"relaxed"},{"c":7,"t":"Nov","v":"novel"},{"c":8,"t":"Nov","v":"relaxed"},{"c":9,"t":"Nov","v":"relaxed"},{"c":10,"t":"Nov","v":"novel"},{"c":11,"t":"Nov","v":"relaxed"},{"c":12,"t":"Nov","v":"relaxed"},{"c":13,"t":"Nov","v":"novel"},{"c":14,"t":"Nov","v":"novel"},{"c":15,"t":"Nov","v":"relaxed"},{"c":16,"t":"Nov","v":"novel"},{"c":17,"t":"Nov","v":"relaxed"}
 ],
 "ovbox": [{"c0":15,"c1":18,"r0":1,"r1":5}]
},
"resolve": {"scale": {"x": "independent", "y": "independent", "color": "independent"}, "axis": {"x": "independent", "y": "independent"}, "legend": {"color": "independent"}},
"layer": [
 {"data": {"name": "ovheat"}, "mark": "rect",
  "encoding": {"x": {"field": "c", "type": "ordinal", "scale": {"range": [365, 518]}, "axis": null}, "y": {"field": "r", "type": "ordinal", "scale": {"range": [5, 118]}, "axis": null},
   "color": {"field": "z", "type": "quantitative", "scale": {"domain": [-4, 0, 4], "range": ["#0000ff", "#ffffff", "#ff0000"], "clamp": true, "interpolate": "rgb"}, "legend": null}}},
 {"data": {"name": "ovbox"}, "mark": {"type": "rect", "fillOpacity": 0, "stroke": "#000", "strokeWidth": 1.5},
  "encoding": {"x": {"field": "c0", "type": "quantitative", "scale": {"domain": [0, 18], "range": [365, 518], "nice": false, "zero": false}, "axis": null}, "x2": {"field": "c1"}, "y": {"field": "r0", "type": "quantitative", "scale": {"domain": [0, 12], "range": [5, 118], "nice": false, "zero": false}, "axis": null}, "y2": {"field": "r1"}}},
 {"data": {"name": "ovgw"}, "mark": "rect",
  "encoding": {"x": {"datum": 0, "type": "quantitative", "scale": {"domain": [0, 1], "range": [355, 363], "nice": false, "zero": false}, "axis": null}, "x2": {"datum": 1}, "y": {"field": "r", "type": "ordinal", "scale": {"range": [5, 118]}, "axis": null},
   "color": {"field": "s", "type": "nominal", "scale": {"domain": ["<0.01", "<0.05", ">=0.05"], "range": ["#006d2c", "#2e8b50", "#9bd7c4"]}, "legend": null}}},
 {"data": {"name": "ovannot"}, "mark": "rect",
  "encoding": {"x": {"field": "c", "type": "ordinal", "scale": {"range": [365, 518]}, "axis": null}, "y": {"field": "t", "type": "nominal", "scale": {"domain": ["MAF", "Nov"], "range": [123, 133]}, "axis": null},
   "color": {"field": "v", "type": "nominal", "scale": {"domain": ["rare", "low", "novel", "relaxed"], "range": ["#0c5a99", "#3d95cc", "#67001f", "#e7298a"]}, "legend": null}}},
 {"data": {"name": "ctree"}, "mark": {"type": "rule", "color": "#333", "strokeWidth": 1},
  "encoding": {"x": {"field": "p1", "type": "quantitative", "scale": {"domain": [-0.5, 18.5], "range": [183, 397], "nice": false, "zero": false}, "axis": null}, "x2": {"field": "p2"}, "y": {"field": "h1", "type": "quantitative", "scale": {"domain": [0, 1], "range": [240, 208], "nice": false, "zero": false}, "axis": null}, "y2": {"field": "h2"}}},
 {"data": {"name": "itop"}, "mark": {"type": "rule", "color": "#333", "strokeWidth": 1},
  "encoding": {"x": {"field": "p1", "type": "quantitative", "scale": {"domain": [-0.5, 1.5], "range": [80, 102], "nice": false, "zero": false}, "axis": null}, "x2": {"field": "p2"}, "y": {"field": "h1", "type": "quantitative", "scale": {"domain": [0, 1], "range": [27, 0], "nice": false, "zero": false}, "axis": null}, "y2": {"field": "h2"}}},
 {"data": {"name": "ileft"}, "mark": {"type": "rule", "color": "#333", "strokeWidth": 1},
  "encoding": {"x": {"field": "h1", "type": "quantitative", "scale": {"domain": [0, 1], "range": [40.5, 8], "nice": false, "zero": false}, "axis": null}, "x2": {"field": "h2"}, "y": {"field": "p1", "type": "quantitative", "scale": {"domain": [-0.5, 8.5], "range": [29.5, 117], "nice": false, "zero": false}, "axis": null}, "y2": {"field": "p2"}}},
 {"data": {"name": "igw"}, "mark": "rect",
  "encoding": {"x": {"datum": 0, "type": "quantitative", "scale": {"domain": [0, 1], "range": [41, 75], "nice": false, "zero": false}, "axis": null}, "x2": {"datum": 1}, "y": {"field": "r", "type": "ordinal", "scale": {"range": [29.5, 117]}, "axis": null},
   "color": {"field": "s", "type": "nominal", "scale": {"domain": ["<0.01", "<0.05", ">=0.05"], "range": ["#006d2c", "#2e8b50", "#9bd7c4"]}, "legend": null}}},
 {"data": {"name": "iheat"},
  "transform": [{"lookup": "r", "from": {"data": {"name": "ipw"}, "key": "r", "fields": ["p"]}}, {"lookup": "c", "from": {"data": {"name": "igenes"}, "key": "c", "fields": ["g"]}}],
  "mark": "rect",
  "encoding": {
   "x": {"field": "g", "type": "nominal", "sort": {"field": "c", "op": "min"}, "scale": {"range": [80, 102]}, "axis": {"orient": "bottom", "offset": -662.5, "title": null, "labelAngle": -90, "labelFontStyle": "italic", "labelFontSize": 8, "labelPadding": 3, "ticks": false, "domain": false, "labelOverlap": false}},
   "y": {"field": "p", "type": "nominal", "sort": {"field": "r", "op": "min"}, "scale": {"range": [29.5, 117]}, "axis": {"orient": "right", "offset": -698, "title": null, "labelFontSize": 8, "labelPadding": 7, "labelLimit": 500, "ticks": false, "domain": false, "labelOverlap": false}},
   "color": {"field": "z", "type": "quantitative", "scale": {"domain": [-4, 0, 4], "range": ["#0000ff", "#ffffff", "#ff0000"], "clamp": true, "interpolate": "rgb"}, "legend": null}}},
 {"data": {"name": "iannot"}, "mark": "rect",
  "encoding": {"x": {"field": "c", "type": "ordinal", "scale": {"range": [80, 102]}, "axis": null}, "y": {"field": "t", "type": "nominal", "scale": {"domain": ["OMIM", "MAF", "EC", "Nov", "Inc"], "range": [155, 238]}, "axis": null},
   "color": {"field": "v", "type": "nominal", "scale": {"domain": ["no", "yes", "rare", "low", "common", "s", "r", "novel", "relaxed", "stringent", "included", "excluded"], "range": ["#999999", "#000000", "#0c5a99", "#3d95cc", "#a9c9e8", "#5a2a91", "#9f99c9", "#67001f", "#e7298a", "#d4b9da", "#a63603", "#fdae6b"]}, "legend": null}}},
 {"data": {"name": "rtree"}, "mark": {"type": "rule", "color": "#333", "strokeWidth": 1},
  "encoding": {"x": {"field": "h1", "type": "quantitative", "scale": {"domain": [0, 1], "range": [141, 108], "nice": false, "zero": false}, "axis": null}, "x2": {"field": "h2"}, "y": {"field": "p1", "type": "quantitative", "scale": {"domain": [-0.5, 33.5], "range": [245, 582], "nice": false, "zero": false}, "axis": null}, "y2": {"field": "p2"}}},
 {"data": {"name": "gw"}, "mark": "rect",
  "encoding": {"x": {"datum": 0, "type": "quantitative", "scale": {"domain": [0, 1], "range": [143, 178], "nice": false, "zero": false}, "axis": null}, "x2": {"datum": 1}, "y": {"field": "r", "type": "ordinal", "scale": {"range": [245, 582]}, "axis": null},
   "color": {"field": "s", "type": "nominal", "scale": {"domain": ["<0.01", "<0.05", ">=0.05"], "range": ["#006d2c", "#2e8b50", "#9bd7c4"]},
    "legend": {"title": ["GWAS significance", "(FDR)"], "orient": "none", "legendX": 0, "legendY": 327, "direction": "vertical", "titleFontSize": 11.5, "labelFontSize": 11, "rowPadding": 1, "titlePadding": 3}}}},
 {"data": {"name": "heat"},
  "transform": [{"lookup": "r", "from": {"data": {"name": "pw"}, "key": "r", "fields": ["p"]}}, {"lookup": "c", "from": {"data": {"name": "genes"}, "key": "c", "fields": ["g"]}}],
  "mark": "rect",
  "encoding": {
   "x": {"field": "g", "type": "nominal", "sort": {"field": "c", "op": "min"}, "scale": {"range": [183, 397]}, "axis": {"orient": "bottom", "offset": -198, "title": null, "labelAngle": -90, "labelFontStyle": "italic", "labelFontSize": 8.3, "labelPadding": 7, "ticks": false, "domain": false, "labelOverlap": false}},
   "y": {"field": "p", "type": "nominal", "sort": {"field": "r", "op": "min"}, "scale": {"range": [245, 582]}, "axis": {"orient": "right", "offset": -403, "title": null, "labelFontSize": 8.3, "labelPadding": 4.5, "labelLimit": 500, "ticks": false, "domain": false, "labelOverlap": false}},
   "color": {"field": "z", "type": "quantitative", "scale": {"domain": [-4, 0, 4], "range": ["#0000ff", "#ffffff", "#ff0000"], "clamp": true, "interpolate": "rgb"},
    "legend": {"title": "Pathway Z−score", "orient": "none", "legendX": 0, "legendY": 405, "direction": "vertical", "gradientLength": 75, "gradientThickness": 10, "values": [4, 2, 0, -2, -4], "labelOffset": 5, "titleFontSize": 12, "labelFontSize": 11, "titlePadding": 3}}}},
 {"data": {"name": "annot"}, "transform": [{"filter": "datum.t == 'OMIM'"}], "mark": "rect",
  "encoding": {"x": {"field": "c", "type": "ordinal", "scale": {"range": [183, 397]}, "axis": null}, "y": {"field": "t", "type": "nominal", "scale": {"domain": ["OMIM", "MAF", "EC", "Nov", "Inc"], "range": [635, 718]}, "axis": null},
   "color": {"field": "v", "type": "nominal", "scale": {"domain": ["yes", "no"], "range": ["#000000", "#999999"]}, "legend": {"title": "OMIM", "orient": "none", "legendX": 0, "legendY": 729, "direction": "vertical"}}}},
 {"data": {"name": "annot"}, "transform": [{"filter": "datum.t == 'MAF'"}], "mark": "rect",
  "encoding": {"x": {"field": "c", "type": "ordinal", "scale": {"range": [183, 397]}, "axis": null}, "y": {"field": "t", "type": "nominal", "scale": {"domain": ["OMIM", "MAF", "EC", "Nov", "Inc"], "range": [635, 718]}, "axis": null},
   "color": {"field": "v", "type": "nominal", "scale": {"domain": ["rare", "low", "common"], "range": ["#0c5a99", "#3d95cc", "#a9c9e8"]}, "legend": {"title": "MAF", "orient": "none", "legendX": 45, "legendY": 729, "direction": "vertical", "labelExpr": "datum.label == 'low' ? 'low−frequency' : datum.label"}}}},
 {"data": {"name": "annot"}, "transform": [{"filter": "datum.t == 'EC'"}], "mark": "rect",
  "encoding": {"x": {"field": "c", "type": "ordinal", "scale": {"range": [183, 397]}, "axis": null}, "y": {"field": "t", "type": "nominal", "scale": {"domain": ["OMIM", "MAF", "EC", "Nov", "Inc"], "range": [635, 718]}, "axis": null},
   "color": {"field": "v", "type": "nominal", "scale": {"domain": ["s", "r"], "range": ["#5a2a91", "#9f99c9"]}, "legend": {"title": "EC Significance (p-value)", "orient": "none", "legendX": 142, "legendY": 729, "direction": "vertical", "labelExpr": "datum.label == 's' ? '<2e−7 (\"stringent\")' : '<5e−4 (\"relaxed\")'"}}}},
 {"data": {"name": "annot"}, "transform": [{"filter": "datum.t == 'Nov'"}], "mark": "rect",
  "encoding": {"x": {"field": "c", "type": "ordinal", "scale": {"range": [183, 397]}, "axis": null}, "y": {"field": "t", "type": "nominal", "scale": {"domain": ["OMIM", "MAF", "EC", "Nov", "Inc"], "range": [635, 718]}, "axis": null},
   "color": {"field": "v", "type": "nominal", "scale": {"domain": ["novel", "relaxed", "stringent"], "range": ["#67001f", "#e7298a", "#d4b9da"]}, "legend": {"title": "Novelty", "orient": "none", "legendX": 318, "legendY": 729, "direction": "vertical", "labelExpr": "datum.label == 'novel' ? 'novel or secondary signal (no overlap with known GWAS loci)' : datum.label == 'relaxed' ? 'known relaxed (overlap with Locke loci with p<5e−4)' : 'known stringent (overlap with genome−wide significant GWAS loci)'"}}}},
 {"data": {"name": "annot"}, "transform": [{"filter": "datum.t == 'Inc'"}], "mark": "rect",
  "encoding": {"x": {"field": "c", "type": "ordinal", "scale": {"range": [183, 397]}, "axis": null}, "y": {"field": "t", "type": "nominal", "scale": {"domain": ["OMIM", "MAF", "EC", "Nov", "Inc"], "range": [635, 718]}, "axis": null},
   "color": {"field": "v", "type": "nominal", "scale": {"domain": ["included", "excluded"], "range": ["#a63603", "#fdae6b"]}, "legend": {"title": "Inclusion", "orient": "none", "legendX": 697, "legendY": 729, "direction": "vertical"}}}}
]
}
